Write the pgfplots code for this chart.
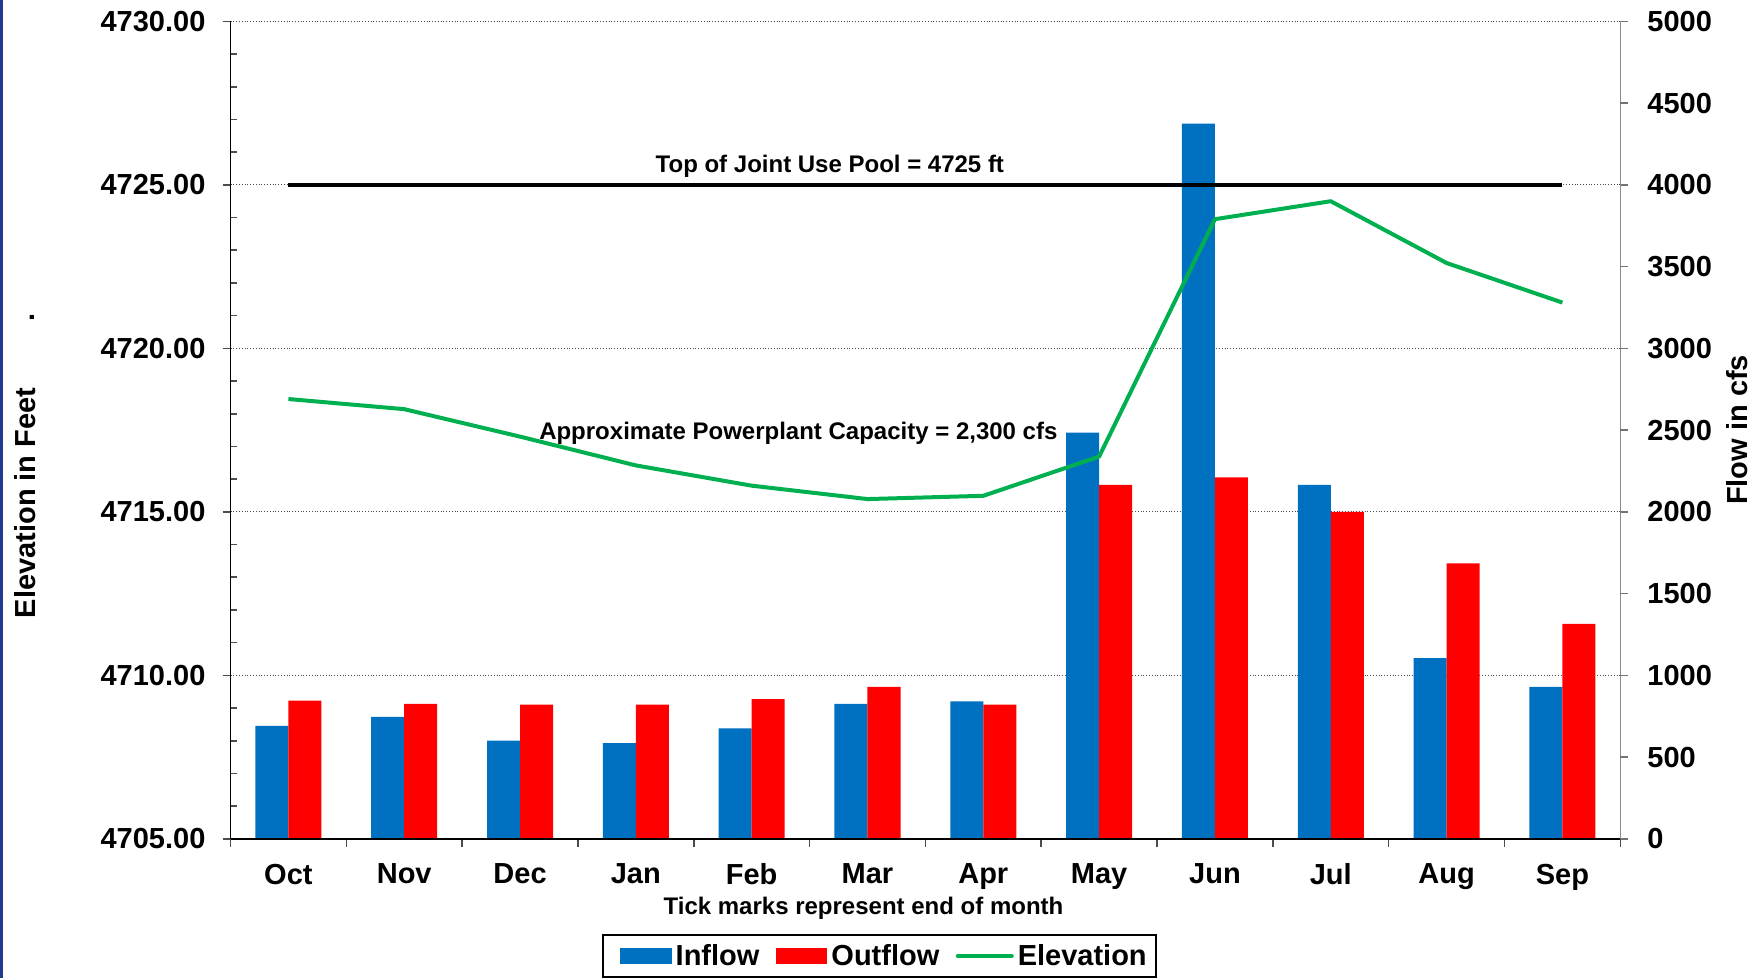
\documentclass[border=0pt]{standalone}
\usepackage{pgfplots}
\pgfplotsset{compat=1.18}
\usepackage{fontspec}
\setmainfont{Liberation Sans}

\definecolor{inblue}{HTML}{0070C0}
\definecolor{outred}{HTML}{FF0000}
\definecolor{elevgreen}{HTML}{00B050}
\definecolor{navy}{HTML}{1F3C8F}

\newcommand{\lbl}{\fontsize{14.5}{17}\selectfont\bfseries}
\newcommand{\annot}{\fontsize{12}{14}\selectfont\bfseries}

\begin{document}
\begin{tikzpicture}
\path[use as bounding box, fill=white] (0,0) rectangle (881.5pt,489pt);
\fill[navy] (0,0) rectangle (1.5pt,489pt);

% flows (right axis)
\begin{axis}[
  at={(115.25pt,69.6pt)}, anchor=south west,
  scale only axis, width=694.9pt, height=408.7pt,
  xmin=-0.5, xmax=11.5, ymin=0, ymax=5000,
  axis x line=none, axis y line*=right,
  ybar=0pt, bar width=16.5pt,
  ytick={0,1000,...,5000},
  extra y ticks={500,1500,...,4500}, extra tick style={grid=none},
  ymajorgrids, grid style={densely dotted, black!70, line width=0.5pt},
  y axis line style={black!45, line width=0.8pt, -},
  tick style={black!55, line width=0.8pt},
  tick align=outside, major tick length=4pt,
  yticklabel style={font=\lbl, xshift=6pt},
  /pgf/number format/assume math mode=true,
  /pgf/number format/1000 sep={},
]
\addplot[fill=inblue, draw=none] coordinates {
  (0,690) (1,745) (2,600) (3,585) (4,675) (5,825)
  (6,840) (7,2485) (8,4375) (9,2165) (10,1105) (11,930)};
\addplot[fill=outred, draw=none] coordinates {
  (0,845) (1,825) (2,820) (3,820) (4,855) (5,930)
  (6,820) (7,2165) (8,2210) (9,2000) (10,1685) (11,1315)};
\end{axis}

% elevation (left axis)
\begin{axis}[
  at={(115.25pt,69.6pt)}, anchor=south west,
  scale only axis, width=694.9pt, height=408.7pt,
  xmin=-0.5, xmax=11.5, ymin=4705, ymax=4730,
  axis x line*=bottom, axis y line*=left, axis line style={-},
  x axis line style={line width=1pt},
  y axis line style={line width=0.6pt},
  xtick={-0.5,0.5,...,11.5}, x tick label as interval,
  xticklabels={Oct,Nov,Dec,Jan,Feb,Mar,Apr,May,Jun,Jul,Aug,Sep},
  ytick={4705,4710,...,4730},
  extra y ticks={4706,4707,4708,4709,4711,4712,4713,4714,4716,4717,4718,4719,4721,4722,4723,4724,4726,4727,4728,4729},
  extra y tick labels={},
  extra y tick style={tick align=inside, major tick length=3.5pt},
  tick style={black!70, line width=0.8pt},
  tick align=outside, major tick length=4pt,
  yticklabel style={font=\lbl, xshift=-5pt, /pgf/number format/fixed, /pgf/number format/fixed zerofill, /pgf/number format/precision=2},
  xticklabel style={font=\lbl, yshift=-5pt},
  /pgf/number format/assume math mode=true,
  /pgf/number format/1000 sep={},
  legend columns=-1,
  legend style={at={(0.4669,-0.1434)}, anchor=center, draw=black, line width=0.8pt,
    font=\lbl, inner xsep=2.5pt, inner ysep=2.4pt,
    /tikz/every even column/.append style={column sep=6.2pt}},
]
\addplot[black, line width=2.2pt, forget plot] coordinates {(0,4725) (11,4725)};
\addlegendimage{legend image code/.code={\path (0pt,0pt); \fill[inblue] (6pt,-3.6pt) rectangle (31pt,3.6pt);}}
\addlegendentry{Inflow}
\addlegendimage{legend image code/.code={\fill[outred] (0pt,-3.6pt) rectangle (25pt,3.6pt);}}
\addlegendentry{Outflow}
\addplot[elevgreen, line width=2pt, line join=round,
  legend image code/.code={\draw[elevgreen, line width=2pt, line cap=round] (0pt,0pt) -- (27pt,0pt);}]
  coordinates {
  (0,4718.45) (1,4718.14) (2,4717.30) (3,4716.42) (4,4715.80) (5,4715.39)
  (6,4715.49) (7,4716.69) (8,4723.95) (9,4724.50) (10,4722.61) (11,4721.40)};
\addlegendentry{Elevation}
\node[font=\annot] at (axis cs:4.675,4725.56) {Top of Joint Use Pool = 4725 ft};
\node[font=\annot] at (axis cs:4.403,4717.41) {Approximate Powerplant Capacity = 2,300 cfs};
\end{axis}

\node[font=\lbl, rotate=90] at (12.35pt,237.5pt) {Elevation in Feet};
\node[font=\lbl, rotate=90] at (16.3pt,330.3pt) {.};
\node[font=\lbl, rotate=90] at (868.5pt,274pt) {Flow in cfs};
\node[font=\annot] at (431.75pt,34.7pt) {Tick marks represent end of month};
\end{tikzpicture}
\end{document}
